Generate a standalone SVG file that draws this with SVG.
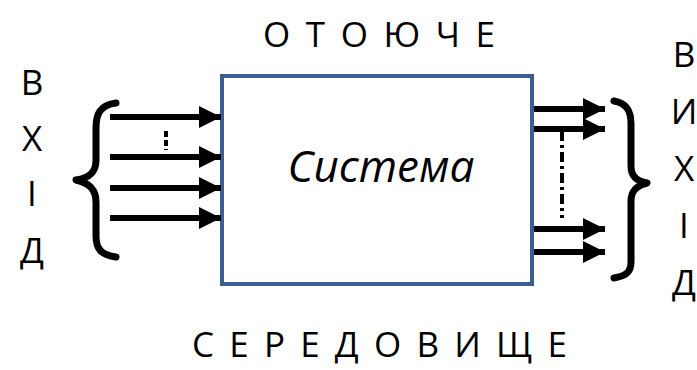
<svg xmlns="http://www.w3.org/2000/svg" width="697" height="370" viewBox="0 0 697 370">
  <defs>
    <style>
      .lbl { font-family: "Open Sans", "Liberation Sans", sans-serif; fill: #000; }
      .cap { font-size: 35px; }
      .side { font-size: 35px; text-anchor: middle; }
      .flow { stroke: #000; stroke-width: 6; fill: none; }
      .brace { stroke: #000; stroke-width: 7; fill: none; stroke-linecap: round; stroke-linejoin: round; }
      .dash { stroke: #000; stroke-width: 4; fill: none; }
    </style>
    <marker id="head" viewBox="0 0 10 10" refX="10" refY="5" markerUnits="userSpaceOnUse" markerWidth="22" markerHeight="22" orient="auto">
      <path d="M0,0 L10,5 L0,10 Z" fill="#000"/>
    </marker>
  </defs>
  <rect width="697" height="370" fill="#fff"/>

  <g id="top-label">
    <text class="lbl cap" x="263" y="47" textLength="232" lengthAdjust="spacing">О Т О Ю Ч Е</text>
  </g>
  <g id="bottom-label">
    <text class="lbl cap" x="192" y="357" textLength="375" lengthAdjust="spacing">С Е Р Е Д О В И Щ Е</text>
  </g>

  <g id="input-label">
    <text class="lbl side" x="32" y="95">В</text>
    <text class="lbl side" x="32" y="151">Х</text>
    <text class="lbl side" x="32" y="206">І</text>
    <text class="lbl side" x="32" y="263">Д</text>
  </g>

  <g id="output-label">
    <text class="lbl side" x="684" y="67">В</text>
    <text class="lbl side" x="684" y="124">И</text>
    <text class="lbl side" x="684" y="181">Х</text>
    <text class="lbl side" x="684" y="238">І</text>
    <text class="lbl side" x="684" y="295">Д</text>
  </g>

  <g id="system">
    <rect x="222" y="76" width="310" height="208" fill="#fff" stroke="#3b6090" stroke-width="4"/>
    <text class="lbl" x="381" y="182" font-size="44" font-style="italic" text-anchor="middle">Система</text>
  </g>

  <g id="connectors">
    <!-- input brace and arrows -->
    <path class="brace" d="M116,103 C100,105 96,114 96,128 L96,160 C96,172 90,178 76,180 C90,183 96,190 96,202 L96,236 C96,250 102,255 116,257"/>
    <line class="flow" x1="110" y1="117" x2="221" y2="117" marker-end="url(#head)"/>
    <line class="flow" x1="110" y1="157" x2="221" y2="157" marker-end="url(#head)"/>
    <line class="flow" x1="110" y1="188" x2="221" y2="188" marker-end="url(#head)"/>
    <line class="flow" x1="110" y1="218" x2="221" y2="218" marker-end="url(#head)"/>
    <line class="dash" x1="166" y1="131" x2="166" y2="150" stroke-dasharray="6 3"/>

    <!-- output arrows and brace -->
    <line class="flow" x1="534" y1="109" x2="605" y2="109" marker-end="url(#head)"/>
    <line class="flow" x1="534" y1="129" x2="605" y2="129" marker-end="url(#head)"/>
    <line class="flow" x1="534" y1="229" x2="605" y2="229" marker-end="url(#head)"/>
    <line class="flow" x1="534" y1="252" x2="605" y2="252" marker-end="url(#head)"/>
    <line class="dash" x1="562" y1="131" x2="562" y2="218" stroke-dasharray="10 4 3 4"/>
    <path class="brace" d="M614,101 C626,103 631,110 631,124 L631,166 C631,176 636,181 647,183 C636,186 631,191 631,201 L631,262 C631,272 626,276 614,278"/>
  </g>
</svg>
